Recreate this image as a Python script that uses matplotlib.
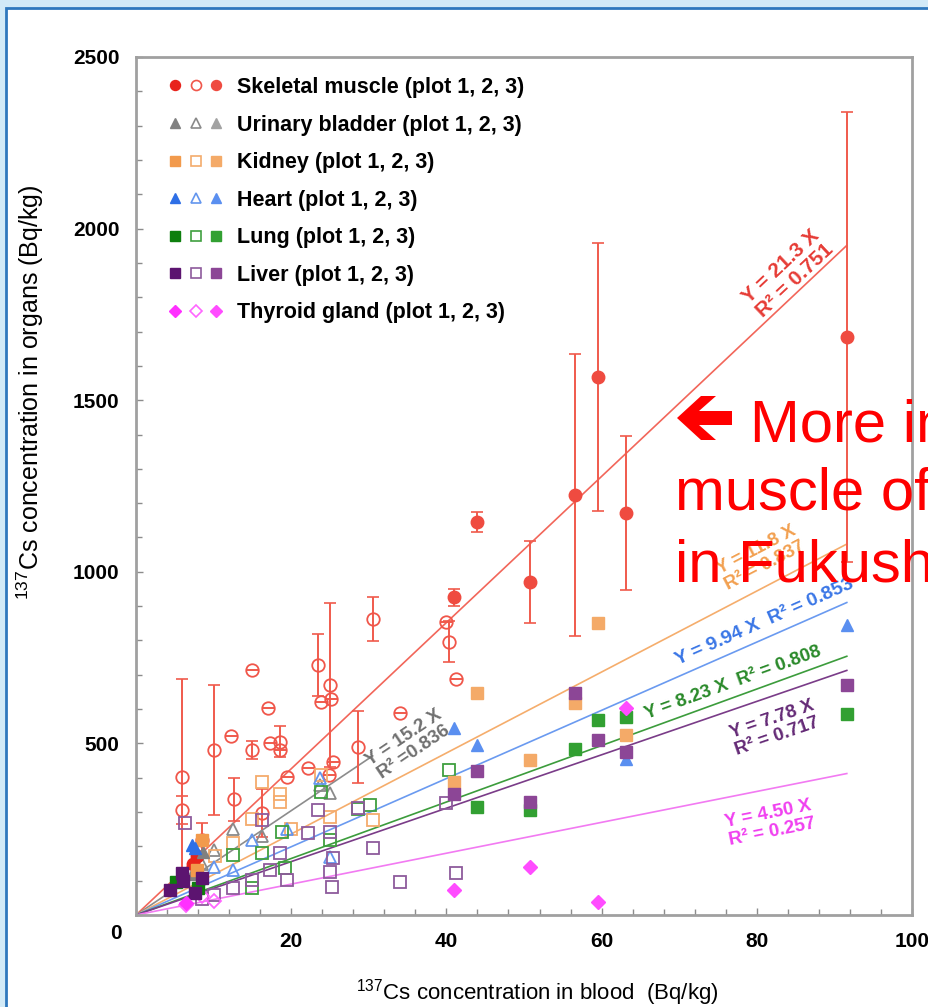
import numpy as np
import matplotlib
matplotlib.use("Agg")
import matplotlib.pyplot as plt
from matplotlib.lines import Line2D
from matplotlib.legend_handler import HandlerTuple
from matplotlib.patches import Polygon, Rectangle
from matplotlib.ticker import MultipleLocator

plt.rcParams['font.family'] = ['Liberation Sans', 'DejaVu Sans']
plt.rcParams['mathtext.fontset'] = 'custom'
plt.rcParams['mathtext.rm'] = 'Liberation Sans'
plt.rcParams['mathtext.bf'] = 'Liberation Sans:bold'

W, H = 929, 1007

# 137Cs in blood (x) vs organs (y), Bq/kg; plot 1 / plot 2 / plot 3 animals
organs = ["Skeletal muscle", "Urinary bladder", "Kidney", "Heart", "Lung", "Liver", "Thyroid gland"]

# plot 1 (filled, dark)
p1_x = [
    [7.3, 7.8],
    [7.2, 8.6],
    [7.8, 8.5],
    [7.2, 7.6],
    [8.0, 5.2],
    [4.4, 5.9, 7.6, 8.5, 6.0],
    [6.5],
]
p1_y = [
    [150, 172],
    [120, 185],
    [131, 219],
    [205, 195],
    [79, 95],
    [73, 121, 63, 107, 100],
    [35],
]

# plot 2 (open)
p2_x = [
    [5.9, 5.9, 8.5, 10.0, 12.3, 12.6, 14.9, 14.9, 16.2, 17.0, 17.3, 18.6, 18.6, 19.4,
     22.2, 23.5, 23.8, 24.9, 25.0, 25.1, 25.4, 28.6, 30.5, 34.0, 40.0, 40.3, 41.2],
    [10.0, 12.5, 16.2, 23.7, 25.0, 8.5],
    [16.2, 18.6, 18.6, 14.9, 23.9, 25.0, 30.6, 10.2, 12.5, 20.0],
    [23.7, 14.9, 12.5, 19.4, 25.0, 10.0],
    [23.9, 25.0, 18.8, 19.2, 14.9, 12.5, 30.2, 40.3, 16.2, 28.6],
    [6.3, 16.2, 23.5, 22.2, 28.6, 25.0, 25.4, 25.0, 25.2, 30.6, 34.0, 18.6, 12.5, 19.4,
     17.3, 14.9, 10.0, 8.5, 40.0, 41.2],
    [6.5, 8.5, 10.0],
]
p2_y = [
    [403, 306, 219, 481, 521, 337, 714, 481, 296, 603, 501, 505, 481, 403,
     427, 728, 622, 408, 670, 629, 447, 490, 862, 588, 854, 796, 687],
    [190, 250, 230, 380, 355, 150],
    [388, 354, 330, 281, 408, 286, 277, 172, 210, 250],
    [398, 218, 131, 252, 170, 140],
    [359, 218, 243, 136, 78, 175, 321, 422, 180, 310],
    [267, 277, 306, 238, 311, 243, 165, 126, 82, 194, 97, 180, 78, 102,
     131, 102, 58, 48, 325, 121],
    [30, 55, 40],
]
muscle_p2_err = [285, 40, 50, 190, 0, 62, 0, 25, 70, 0, 0, 45, 0, 0,
                 0, 90, 0, 0, 240, 0, 0, 105, 65, 0, 0, 60, 0]

# plot 3 (filled, lighter)
p3_x = [
    [41.0, 43.9, 50.8, 56.6, 59.6, 63.1, 91.6],
    [],
    [41.0, 43.9, 50.8, 56.6, 59.6, 63.1],
    [41.0, 43.9, 63.1, 91.6],
    [43.9, 50.8, 56.6, 59.6, 63.1, 91.6],
    [41.0, 43.9, 50.8, 56.6, 59.6, 63.1, 91.6],
    [41.0, 50.8, 59.6, 63.1],
]
p3_y = [
    [926, 1145, 971, 1224, 1568, 1171, 1684],
    [],
    [388, 646, 452, 619, 852, 524],
    [544, 495, 456, 845],
    [316, 306, 483, 568, 578, 585],
    [354, 419, 330, 648, 510, 476, 670],
    [73, 139, 39, 602],
]
muscle_p3_err = [25, 30, 120, 410, 390, 225, 656]

# regression through origin
fit_slope = [21.3, 15.2, 11.8, 9.94, 8.23, 7.78, 4.50]
fit_r2 = ["0.751", "0.836", "0.837", "0.853", "0.808", "0.717", "0.257"]
fit_xmax = [91.6, 30.5, 91.6, 91.6, 91.6, 91.6, 91.6]

# styles: marker, plot-1 colour, plot-2 edge, plot-3 colour, fit line, label colour
markers = ['o', '^', 's', '^', 's', 's', 'D']
c_dark = ['#e8231c', '#808080', '#f29a4c', '#2e6fe6', '#0d7f0d', '#5c1470', '#ff30ff']
c_open = ['#f0564a', '#8a8a8a', '#f4ab6c', '#6496ee', '#3f9f3f', '#8e5a9c', '#ff66ff']
c_light = ['#ef4b40', '#a2a2a2', '#f4aa68', '#5a8ff0', '#32a032', '#8c4696', '#ff4cff']
c_line = ['#f2665a', '#8c8c8c', '#f5ad6c', '#6a9af0', '#3c9c3c', '#7a3c88', '#f27af2']
c_text = ['#e63c36', '#707070', '#f2a050', '#3a76e6', '#2a8a2a', '#642a76', '#f040f0']
msize = [9, 9, 9, 9, 9, 9, 7.5]


def fpx(x, y):
    return x / W, 1 - y / H


fig = plt.figure(figsize=(W / 100, H / 100), dpi=100, facecolor='#d2eaf7')
fig.add_artist(Rectangle(fpx(6, 1100), 1.2, (1100 - 8) / H, transform=fig.transFigure,
                         facecolor='white', edgecolor='#2f78bd', lw=2, zorder=0))

x0, y0 = fpx(136, 915)
x1, y1 = fpx(912, 57)
ax = fig.add_axes([x0, y0, x1 - x0, y1 - y0])
ax.set_xlim(0, 100)
ax.set_ylim(0, 2500)

for i in range(len(organs)):
    xs = np.array([0, fit_xmax[i]])
    ax.plot(xs, fit_slope[i] * xs, color=c_line[i], lw=1.2, zorder=2)

ax.errorbar(p2_x[0], p2_y[0], yerr=muscle_p2_err, fmt='none', ecolor='#f05a4c',
            elinewidth=1.4, capsize=4, capthick=1.2, zorder=3)
ax.errorbar(p3_x[0], p3_y[0], yerr=muscle_p3_err, fmt='none', ecolor='#f05a4c',
            elinewidth=1.4, capsize=4, capthick=1.2, zorder=3)

for i in range(len(organs)):
    ax.plot(p2_x[i], p2_y[i], ls='none', marker=markers[i], ms=msize[i],
            mfc='none', mec=c_open[i], mew=1.3, zorder=4)
for i in range(len(organs)):
    ax.plot(p3_x[i], p3_y[i], ls='none', marker=markers[i], ms=msize[i],
            mfc=c_light[i], mec=c_light[i], zorder=5)
    ax.plot(p1_x[i], p1_y[i], ls='none', marker=markers[i], ms=msize[i],
            mfc=c_dark[i], mec=c_dark[i], zorder=5)

# equation labels along the fitted lines
eq_text = [
    f"Y = {fit_slope[0]:.1f} X\nR² = {fit_r2[0]}",
    f"Y = {fit_slope[1]:.1f} X\nR² ={fit_r2[1]}",
    f"Y = {fit_slope[2]:.1f} X\nR² = {fit_r2[2]}",
    f"Y = {fit_slope[3]:.2f} X  R² = {fit_r2[3]}",
    f"Y = {fit_slope[4]:.2f} X  R² = {fit_r2[4]}",
    f"Y = {fit_slope[5]:.2f} X\nR² = {fit_r2[5]}",
    f"Y = {fit_slope[6]:.2f} X\nR² = {fit_r2[6]}",
]
eq_xy = [(84.0, 1870), (35.2, 495), (80.5, 1040), (81.0, 855), (77.0, 675), (82.3, 545), (81.7, 268)]
eq_size = [15, 13.5, 13.5, 14, 13.5, 13.5, 13.5]
for i in range(len(organs)):
    ax.text(eq_xy[i][0], eq_xy[i][1], eq_text[i], color=c_text[i], fontsize=eq_size[i],
            fontweight='bold', ha='center', va='center', multialignment='center',
            rotation=np.degrees(np.arctan(fit_slope[i])), rotation_mode='anchor',
            transform_rotates_text=True, linespacing=1.05, zorder=6)

ax.xaxis.set_major_locator(MultipleLocator(20))
ax.xaxis.set_minor_locator(MultipleLocator(4))
ax.yaxis.set_major_locator(MultipleLocator(500))
ax.yaxis.set_minor_locator(MultipleLocator(100))
ax.tick_params(which='both', direction='in', color='#8c8c8c', width=1, top=False, right=False)
ax.tick_params(which='major', length=5, pad=12, labelsize=15)
ax.tick_params(which='minor', length=4)
ax.set_xticks([20, 40, 60, 80, 100])
ax.set_yticks([500, 1000, 1500, 2000, 2500])
for lab in ax.get_xticklabels() + ax.get_yticklabels():
    lab.set_fontweight('bold')
ax.text(-0.026, -0.022, "0", transform=ax.transAxes, ha='center', va='center',
        fontsize=15, fontweight='bold')
for s in ax.spines.values():
    s.set_color('#a0a0a0')
    s.set_linewidth(2)

fig.text(*fpx(537, 993), r"$^{137}$Cs concentration in blood  (Bq/kg)", ha='center',
         va='center', fontsize=16)
fig.text(*fpx(30, 392), r"$^{137}$Cs concentration in organs (Bq/kg)", ha='center',
         va='center', rotation=90, fontsize=18)

handles = []
for i in range(len(organs)):
    handles.append((
        Line2D([], [], ls='none', marker=markers[i], ms=msize[i] * 0.8, mfc=c_dark[i], mec=c_dark[i]),
        Line2D([], [], ls='none', marker=markers[i], ms=msize[i] * 0.8, mfc='none', mec=c_open[i], mew=1.2),
        Line2D([], [], ls='none', marker=markers[i], ms=msize[i] * 0.8, mfc=c_light[i], mec=c_light[i]),
    ))
labels = [f"{o} (plot 1, 2, 3)" for o in organs]
lx, ly = fpx(165, 77)
ax.legend(handles, labels, handler_map={tuple: HandlerTuple(ndivide=None, pad=0)},
          loc='upper left', bbox_to_anchor=(lx, ly), bbox_transform=fig.transFigure,
          frameon=False, borderpad=0, borderaxespad=0, handlelength=2.85,
          handletextpad=0.5, labelspacing=0.77, prop={'weight': 'bold', 'size': 15.5})

# red callout
red = '#ff0000'
fig.text(*fpx(750, 441), "More in", color=red, fontsize=43, va='baseline', ha='left')
fig.text(*fpx(675, 510), "muscle of", color=red, fontsize=43, va='baseline', ha='left')
fig.text(*fpx(675, 581), "in Fukushima", color=red, fontsize=43, va='baseline', ha='left')
arrow = [(677, 418), (701, 396), (716, 396), (699, 411), (732, 411),
         (732, 425), (699, 425), (716, 440), (701, 440)]
fig.add_artist(Polygon([fpx(*p) for p in arrow], closed=True, transform=fig.transFigure,
                       facecolor=red, edgecolor='none', zorder=10))

fig.savefig("out.png", dpi=100, facecolor=fig.get_facecolor())
